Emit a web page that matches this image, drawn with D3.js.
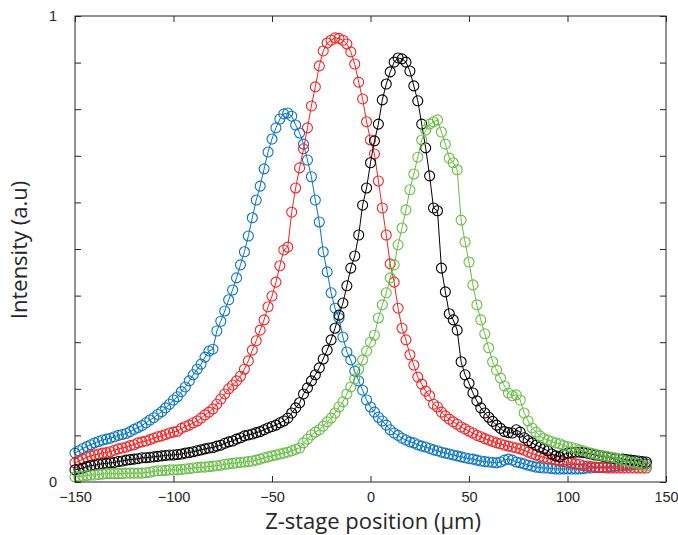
<!DOCTYPE html>
<html>
<head>
<meta charset="utf-8">
<script src="https://cdn.jsdelivr.net/npm/d3@7"></script>
<style>
  body { margin: 0; background: #fff; }
  svg { display: block; }
</style>
</head>
<body>
<div id="chart"></div>
<script>
/* Z-stage positions (um), one sample every 2 um */
const zPositions = d3.range(-150, 141, 2);

/* Intensity, one value per stage position */
const blueSeries = [0.062,0.067,0.072,0.076,0.080,0.084,0.087,0.090,0.092,0.094,
  0.097,0.100,0.102,0.104,0.108,0.113,0.117,0.121,0.127,0.133,
  0.138,0.145,0.151,0.159,0.167,0.176,0.183,0.194,0.204,0.217,
  0.230,0.242,0.253,0.268,0.281,0.285,0.324,0.345,0.367,0.391,
  0.412,0.438,0.466,0.494,0.528,0.567,0.605,0.635,0.672,0.708,
  0.736,0.760,0.779,0.790,0.792,0.785,0.766,0.749,0.725,0.691,
  0.655,0.605,0.558,0.494,0.451,0.406,0.373,0.352,0.311,0.279,
  0.262,0.238,0.217,0.197,0.176,0.161,0.150,0.139,0.131,0.122,
  0.112,0.105,0.100,0.094,0.090,0.086,0.084,0.080,0.077,0.075,
  0.072,0.069,0.067,0.064,0.062,0.060,0.058,0.056,0.054,0.052,
  0.050,0.049,0.047,0.045,0.044,0.043,0.042,0.041,0.043,0.047,
  0.049,0.047,0.043,0.041,0.039,0.036,0.034,0.032,0.031,0.030,
  0.030,0.029,0.028,0.028,0.028,0.028,0.028,0.028,0.028,0.029,
  0.030,0.030,0.031,0.031,0.032,0.032,0.033,0.034,0.034,0.035,
  0.036,0.036,0.038,0.038,0.039,0.039];

const redSeries = [0.041,0.045,0.049,0.053,0.056,0.058,0.060,0.062,0.063,0.065,
  0.068,0.071,0.073,0.075,0.078,0.080,0.084,0.086,0.088,0.091,
  0.094,0.097,0.099,0.102,0.105,0.107,0.109,0.115,0.119,0.122,
  0.127,0.131,0.137,0.144,0.150,0.157,0.167,0.178,0.189,0.200,
  0.208,0.217,0.227,0.242,0.260,0.283,0.303,0.326,0.348,0.376,
  0.399,0.429,0.464,0.498,0.504,0.579,0.631,0.674,0.715,0.760,
  0.807,0.848,0.893,0.925,0.942,0.948,0.953,0.952,0.948,0.940,
  0.923,0.897,0.858,0.822,0.773,0.734,0.704,0.646,0.588,0.530,
  0.468,0.429,0.373,0.330,0.305,0.273,0.251,0.225,0.210,0.195,
  0.185,0.167,0.161,0.150,0.142,0.135,0.129,0.124,0.118,0.114,
  0.109,0.105,0.100,0.097,0.093,0.090,0.087,0.084,0.082,0.079,
  0.077,0.075,0.073,0.071,0.068,0.064,0.061,0.058,0.055,0.053,
  0.050,0.049,0.047,0.045,0.044,0.042,0.041,0.039,0.038,0.035,
  0.034,0.033,0.032,0.031,0.031,0.030,0.030,0.030,0.030,0.030,
  0.030,0.030,0.030,0.030,0.030,0.030];

const blackSeries = [0.026,0.028,0.030,0.033,0.035,0.036,0.038,0.039,0.040,0.041,
  0.042,0.044,0.045,0.047,0.048,0.049,0.050,0.052,0.052,0.053,
  0.054,0.055,0.056,0.057,0.058,0.058,0.059,0.060,0.062,0.063,
  0.065,0.067,0.069,0.071,0.073,0.074,0.077,0.079,0.083,0.086,
  0.088,0.092,0.095,0.099,0.101,0.103,0.106,0.108,0.112,0.116,
  0.119,0.122,0.127,0.131,0.137,0.148,0.159,0.170,0.189,0.202,
  0.217,0.230,0.245,0.264,0.283,0.305,0.330,0.358,0.384,0.421,
  0.459,0.485,0.530,0.594,0.631,0.685,0.732,0.768,0.820,0.854,
  0.880,0.901,0.910,0.908,0.901,0.882,0.850,0.818,0.768,0.717,
  0.657,0.588,0.582,0.459,0.408,0.361,0.348,0.326,0.258,0.230,
  0.212,0.191,0.174,0.159,0.148,0.139,0.130,0.122,0.115,0.108,
  0.106,0.105,0.112,0.107,0.095,0.089,0.084,0.079,0.075,0.071,
  0.067,0.060,0.056,0.054,0.059,0.062,0.063,0.064,0.064,0.063,
  0.062,0.060,0.058,0.057,0.055,0.054,0.052,0.050,0.049,0.049,
  0.048,0.047,0.046,0.045,0.044,0.043];

const greenSeries = [0.011,0.012,0.013,0.014,0.015,0.015,0.016,0.017,0.018,0.018,
  0.018,0.018,0.018,0.019,0.019,0.019,0.019,0.019,0.020,0.021,
  0.023,0.024,0.024,0.025,0.026,0.026,0.026,0.027,0.028,0.029,
  0.030,0.031,0.032,0.032,0.033,0.034,0.035,0.036,0.038,0.039,
  0.040,0.041,0.042,0.043,0.044,0.045,0.047,0.049,0.052,0.054,
  0.056,0.058,0.060,0.062,0.064,0.067,0.070,0.073,0.084,0.092,
  0.101,0.107,0.112,0.120,0.129,0.137,0.148,0.161,0.172,0.189,
  0.204,0.221,0.242,0.262,0.281,0.300,0.315,0.352,0.380,0.406,
  0.438,0.466,0.509,0.545,0.584,0.627,0.661,0.697,0.734,0.755,
  0.768,0.773,0.777,0.751,0.725,0.695,0.685,0.670,0.562,0.515,
  0.472,0.423,0.380,0.348,0.318,0.288,0.258,0.240,0.223,0.206,
  0.191,0.185,0.187,0.176,0.148,0.131,0.116,0.107,0.099,0.093,
  0.090,0.087,0.084,0.082,0.078,0.076,0.074,0.072,0.069,0.067,
  0.064,0.062,0.060,0.058,0.056,0.055,0.053,0.052,0.049,0.047,
  0.045,0.043,0.041,0.040,0.036,0.034];

/* Tick values and labels */
const xTicks = [-150, -100, -50, 0, 50, 100, 150];
const yTicks = [0, 0.1, 0.2, 0.3, 0.4, 0.5, 0.6, 0.7, 0.8, 0.9, 1];
const yTickLabels = {0: "0", 1: "1"};

/* Series in plotting order (last one on top) */
const seriesList = [
  { name: "blue",  color: "#0b74c2", values: blueSeries },
  { name: "red",   color: "#f22424", values: redSeries },
  { name: "black", color: "#000000", values: blackSeries },
  { name: "green", color: "#68bd45", values: greenSeries }
];

const width = 678, height = 535;
const margins = { top: 16, right: 12, bottom: 53, left: 75 };
const axisColor = "#262626";

const svg = d3.select("#chart")
  .append("svg")
  .attr("width", width)
  .attr("height", height);

const xScale = d3.scaleLinear()
  .domain([-150, 150])
  .range([margins.left, width - margins.right]);

const yScale = d3.scaleLinear()
  .domain([0, 1])
  .range([height - margins.bottom, margins.top]);

/* Data lines and open circle markers */
const line = d3.line()
  .x((d, i) => xScale(zPositions[i]))
  .y(d => yScale(d));

seriesList.forEach(s => {
  const g = svg.append("g").attr("class", "series-" + s.name);

  g.append("path")
    .datum(s.values)
    .attr("fill", "none")
    .attr("stroke", s.color)
    .attr("stroke-width", 1)
    .attr("d", line);

  g.selectAll("circle")
    .data(s.values)
    .join("circle")
      .attr("cx", (d, i) => xScale(zPositions[i]))
      .attr("cy", d => yScale(d))
      .attr("r", 5)
      .attr("fill", "none")
      .attr("stroke", s.color)
      .attr("stroke-width", 1.1);
});

/* Axes with inward ticks (MATLAB style box) */
const styleAxis = sel => {
  sel.select(".domain").remove();
  sel.selectAll(".tick line").attr("stroke", axisColor);
  sel.selectAll(".tick text")
    .attr("fill", axisColor)
    .attr("font-family", "'Liberation Sans', Arial, sans-serif")
    .attr("font-size", "14.5px");
};

svg.append("g")
  .attr("transform", `translate(0,${height - margins.bottom})`)
  .call(d3.axisBottom(xScale).tickValues(xTicks).tickSizeInner(-6).tickSizeOuter(0).tickPadding(10))
  .call(styleAxis);

svg.append("g")
  .attr("transform", `translate(0,${margins.top})`)
  .call(d3.axisTop(xScale).tickValues(xTicks).tickSizeInner(-6).tickSizeOuter(0).tickFormat(""))
  .call(styleAxis);

svg.append("g")
  .attr("transform", `translate(${margins.left},0)`)
  .call(d3.axisLeft(yScale).tickValues(yTicks).tickSizeInner(-6).tickSizeOuter(0)
    .tickPadding(18).tickFormat(d => yTickLabels[d] || ""))
  .call(styleAxis);

svg.append("g")
  .attr("transform", `translate(${width - margins.right},0)`)
  .call(d3.axisRight(yScale).tickValues(yTicks).tickSizeInner(-6).tickSizeOuter(0).tickFormat(""))
  .call(styleAxis);

/* Plot box */
svg.append("rect")
  .attr("x", margins.left)
  .attr("y", margins.top)
  .attr("width", width - margins.left - margins.right)
  .attr("height", height - margins.top - margins.bottom)
  .attr("fill", "none")
  .attr("stroke", axisColor)
  .attr("stroke-width", 1);

/* Axis titles */
svg.append("text")
  .attr("x", 373)
  .attr("y", 529)
  .attr("text-anchor", "middle")
  .attr("font-family", "'Open Sans', 'Noto Sans', sans-serif")
  .attr("font-size", "22px")
  .attr("fill", axisColor)
  .text("Z-stage position (µm)");

svg.append("text")
  .attr("transform", `translate(27,250) rotate(-90)`)
  .attr("text-anchor", "middle")
  .attr("font-family", "'Open Sans', 'Noto Sans', sans-serif")
  .attr("font-size", "22px")
  .attr("fill", axisColor)
  .text("Intensity (a.u)");
</script>
</body>
</html>
